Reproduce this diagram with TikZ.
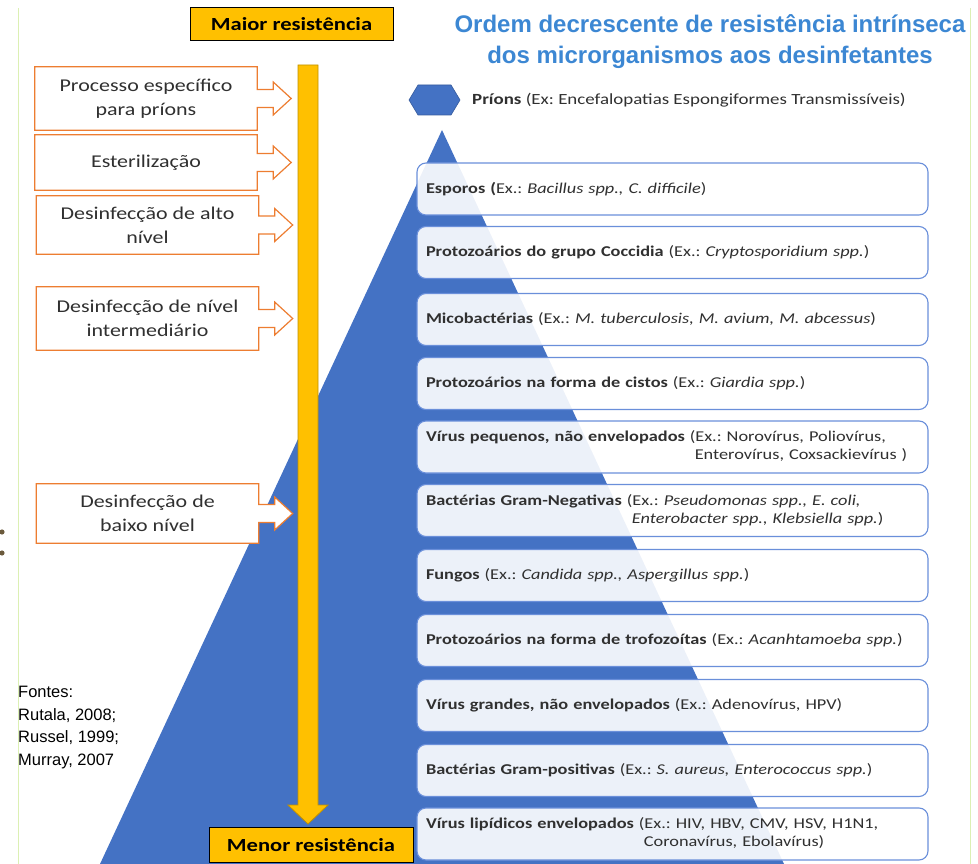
\documentclass[tikz,border=0pt]{standalone}
\usepackage{fontspec}
\setmainfont{Carlito}[FakeStretch=1.22]
\newfontfamily\arialfont{Liberation Sans}
\usetikzlibrary{calc}
\frenchspacing

\definecolor{resyellow}{HTML}{FFC000}
\definecolor{resedge}{HTML}{BF9000}
\definecolor{calloutorange}{HTML}{ED7D31}
\definecolor{pyramidblue}{HTML}{4472C4}
\definecolor{boxedge}{HTML}{6A8FDA}
\definecolor{titleblue}{HTML}{3C87D3}
\definecolor{textgray}{HTML}{303030}
\definecolor{slidegreen}{HTML}{DCF0B4}
\definecolor{dotbrown}{HTML}{6B5A3C}

\pgfdeclarelayer{front}
\pgfsetlayers{main,front}

% outline of a box with an open arrow on its right side
\newcommand{\calloutarrow}[1]{%
  \draw[calloutline] (#1.north west) -- (#1.north east)
    -- ($(#1.east)+(0,-9)$) -- ++(16,0) -- ++(0,-7.5)
    -- ($(#1.east)+(34,0)$)
    -- ($(#1.east)+(16,16.5)$) -- ++(0,-7.5)
    -- ($(#1.east)+(0,9)$) -- (#1.south east) -- (#1.south west) -- cycle;}

% second line of a two-line example list
\newcommand{\exlines}[2]{\begin{tabular}[t]{@{}l@{}}#1\\\hspace{5pt}#2\end{tabular}}

\begin{document}
\begin{tikzpicture}[x=1pt, y=-1pt,
    resbox/.style={draw=black, line width=1pt, fill=resyellow, minimum width=203pt,
      minimum height=33pt, inner sep=0pt, font=\fontsize{18.5}{20}\selectfont\bfseries},
    calloutbox/.style={minimum width=222pt, inner sep=0pt, align=center, text=textgray,
      font=\fontsize{18}{24}\selectfont},
    calloutline/.style={draw=calloutorange, line width=1.2pt, fill=white},
    levelbox/.style={draw=boxedge, line width=1.1pt, rounded corners=9pt, fill=white,
      fill opacity=0.9, text opacity=1, minimum width=511pt, minimum height=52pt,
      text width=493pt, inner xsep=9pt, align=left, text=textgray,
      font=\fontsize{15}{18}\selectfont},
    slideline/.style={draw=slidegreen, line width=1pt}]
  \useasboundingbox (0,0) rectangle (978,864);

  % slide borders and bullet dots
  \draw[slideline] (18,8) -- (18,864);
  \draw[slideline] (970,8) -- (970,864);
  \fill[dotbrown] (2,532) circle (2.6pt) (2,553) circle (2.6pt);

  % pyramid
  \fill[pyramidblue] (442,130) -- (784,864) -- (100,864) -- cycle;

  % resistance scale
  \node[resbox] (maior) at (291.5,24) {Maior resistência};
  \draw[resedge, fill=resyellow, line width=0.8pt]
    (298,65) -- (318,65) -- (318,805) -- (328,805) -- (308,824)
    -- (288,805) -- (298,805) -- cycle;
  \node[resbox, minimum width=204pt, minimum height=35pt] (menor) at (311,845) {Menor resistência};

  % title
  \node[font=\arialfont\bfseries\fontsize{24}{31}\selectfont, text=titleblue, align=center]
    (title) at (710,42) {Ordem decrescente de resistência intrínseca\\dos microrganismos aos desinfetantes};

  % processes
  \begin{pgfonlayer}{front}
    \node[calloutbox, minimum height=63pt] (prionproc) at (146,98.5) {Processo específico\\para príons};
    \node[calloutbox, minimum height=55pt] (esteril) at (146,162.5) {Esterilização};
    \node[calloutbox, minimum height=58pt] (altonivel) at (147.5,225) {Desinfecção de alto\\nível};
    \node[calloutbox, minimum height=63pt] (intermed) at (147.5,318.5) {Desinfecção de nível\\intermediário};
    \node[calloutbox, minimum height=59pt] (baixonivel) at (147.5,513.5) {Desinfecção de\\baixo nível};
  \end{pgfonlayer}
  \foreach \c in {prionproc,esteril,altonivel,intermed,baixonivel}
    \calloutarrow{\c};

  % prions
  \draw[draw=pyramidblue!80!black, fill=pyramidblue, line width=0.6pt]
    (409,100) -- (418,85) -- (451,85) -- (460,100) -- (451,115) -- (418,115) -- cycle;
  \node[anchor=west, text=textgray, inner sep=0pt, font=\fontsize{15.5}{18}\selectfont]
    (prions) at (472,100) {\textbf{Príons} (Ex: Encefalopatias Espongiformes Transmissíveis)};

  % microorganism levels, most resistant first
  \node[levelbox] (esporos) at (672.5,189) {\textbf{Esporos (}Ex.: \textit{Bacillus spp., C. difficile})};
  \node[levelbox] (coccidia) at (672.5,252.5) {\textbf{Protozoários do grupo Coccidia} (Ex.: \textit{Cryptosporidium spp.})};
  \node[levelbox] (mico) at (672.5,319.5) {\textbf{Micobactérias} (Ex.: \textit{M. tuberculosis, M. avium, M. abcessus})};
  \node[levelbox] (cistos) at (672.5,383.5) {\textbf{Protozoários na forma de cistos} (Ex.: \textit{Giardia spp.})};
  \node[levelbox] (vpeq) at (672.5,447) {\textbf{Vírus pequenos, não envelopados} \exlines{(Ex.: Norovírus, Poliovírus,}{Enterovírus, Coxsackievírus )}};
  \node[levelbox] (gramneg) at (672.5,510.5) {\textbf{Bactérias Gram-Negativas} \exlines{(Ex.: \textit{Pseudomonas spp., E. coli,}}{\textit{Enterobacter spp., Klebsiella spp.})}};
  \node[levelbox] (fungos) at (672.5,575.5) {\textbf{Fungos} (Ex.: \textit{Candida spp., Aspergillus spp.})};
  \node[levelbox] (trofo) at (672.5,640.5) {\textbf{Protozoários na forma de trofozoítas} (Ex.: \textit{Acanhtamoeba spp.})};
  \node[levelbox] (vgrand) at (672.5,705.5) {\textbf{Vírus grandes, não envelopados} (Ex.: Adenovírus, HPV)};
  \node[levelbox] (grampos) at (672.5,770.5) {\textbf{Bactérias Gram-positivas} (Ex.: \textit{S. aureus, Enterococcus spp.})};
  \node[levelbox] (vlip) at (672.5,834) {\textbf{Vírus lipídicos envelopados} \exlines{(Ex.: HIV, HBV, CMV, HSV, H1N1,}{Coronavírus, Ebolavírus)}};

  % sources
  \node[anchor=north west, align=left, inner sep=0pt, font=\arialfont\fontsize{16.5}{22.5}\selectfont]
    (fontes) at (18,686) {Fontes:\\Rutala, 2008;\\Russel, 1999;\\Murray, 2007};
\end{tikzpicture}
\end{document}
